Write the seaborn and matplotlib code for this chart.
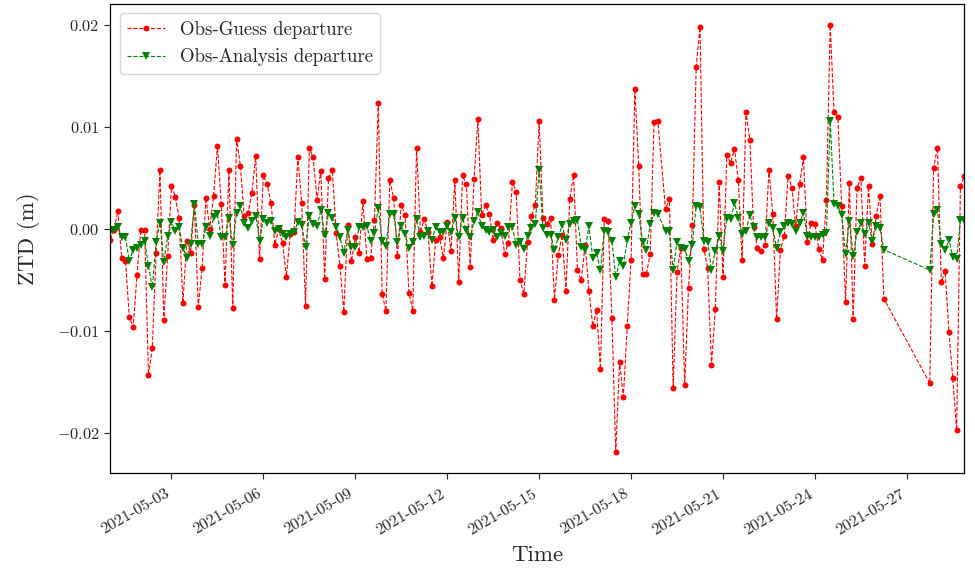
import numpy as np
import pandas as pd
import matplotlib
matplotlib.use("Agg")
import matplotlib.pyplot as plt
import matplotlib.dates as mdates
import seaborn as sns

nan = np.nan

# ZTD departures (mm) on a 3-hourly cycle starting 2021-05-01 00:00
omb_mm = [
    -1.0, -0.1, 1.8, -2.8, -3.1, -8.6, -9.6, -4.5, -0.1, -0.1,
    -14.3, -11.6, -2.3, 5.8, -8.9, -2.6, 4.2, 3.2, 1.1, -7.2,
    -1.1, -2.3, 2.4, -7.6, -3.8, 3.1, 0.0, 3.3, 8.2, 2.5,
    -5.5, 5.85, -7.7, 8.9, 6.2, 1.3, 1.6, 3.6, 7.2, -2.9,
    5.3, 4.4, 2.6, -1.5, 0.0, -1.3, -4.65, -0.5, -0.3, 7.05,
    2.6, -7.5, 8.0, 7.05, 2.9, 5.75, -4.9, 5.0, 5.85, -0.4,
    -3.6, -8.1, 0.4, -3.15, -0.75, -2.3, 2.8, -2.9, -2.8, 0.9,
    12.35, -6.3, -8.0, 4.8, 3.1, -2.6, 2.4, 1.4, -6.2, -8.0,
    8.0, -0.3, 1.0, -0.3, -5.6, -1.0, -0.8, -2.8, 0.75, -2.1,
    4.8, -5.2, 5.3, 4.4, -3.7, 4.9, 10.8, 1.4, 2.4, 1.5,
    -1.0, 0.65, 0.15, -2.4, -1.3, 4.6, 3.7, -5.0, -6.3, -1.2,
    1.3, 2.4, 10.6, 1.1, 0.55, 1.1, -6.9, -2.5, -0.55, -6.0,
    3.0, 5.3, -4.0, -5.0, -1.5, -6.0, -9.5, -7.9, -13.7, 1.0,
    0.8, -8.7, -21.8, -13.0, -16.4, -9.5, -3.0, 13.8, 6.2, -4.4,
    -4.4, -2.4, 10.5, 10.6, nan, 1.95, 3.0, -15.6, -4.2, -1.8,
    -15.3, -5.8, 0.4, 15.9, 19.8, -1.9, -3.8, -13.3, -7.8, 4.6,
    -4.7, 7.3, 6.5, 7.9, 4.8, -3.0, 11.5, 8.8, 0.2, -1.85,
    -2.1, -1.5, 5.85, 1.5, -8.8, -2.0, -0.65, 5.2, 4.1, 0.3,
    4.4, 7.05, -1.2, 0.65, 0.5, -1.95, -3.0, 2.9, 20.0, 11.5,
    11.0, 2.3, -7.1, 4.55, -8.8, 4.1, 5.0, -3.6, 4.2, -1.4,
    1.3, 3.3, -6.8, nan, nan, nan, nan, nan, nan, nan,
    nan, nan, nan, nan, -15.1, 6.0, 8.0, -5.2, -4.1, -10.1,
    -14.6, -19.7, 4.2, 5.2,
]

oma_mm = [
    -0.3, -0.1, 0.2, -0.8, -0.8, -3.1, -2.0, -1.8, -1.5, -1.1,
    -3.6, -5.7, -1.2, 0.65, -3.25, -0.7, 0.7, -0.15, 0.2, -1.8,
    -2.8, -1.4, 2.5, -1.4, -1.4, 0.2, -0.7, 1.2, 1.5, -0.8,
    -0.8, 1.1, -1.5, 1.6, 2.3, 0.65, 0.15, 0.8, 1.3, -1.1,
    1.0, 0.65, 0.8, -0.15, 0.0, -0.5, -0.8, -0.5, -0.3, 0.7,
    0.4, -1.7, 1.3, 0.5, 0.3, 1.9, -0.6, 1.6, 1.1, 0.2,
    -0.8, -2.3, -0.1, -1.7, -1.7, 0.2, 0.2, 0.3, -1.1, -0.4,
    2.1, -1.1, -1.6, 1.5, 1.5, -1.2, 0.3, -0.5, -1.8, -1.2,
    1.0, -0.8, -0.65, -0.2, -1.0, 0.2, -0.3, -0.3, 0.3, -0.3,
    1.1, -0.8, 1.1, -0.1, -0.8, 0.8, 1.7, 0.3, -0.1, -0.3,
    -0.1, -0.8, -0.4, -0.65, 0.2, 0.2, -1.5, -1.2, -1.9, -0.65,
    0.1, 0.55, 5.85, 0.1, -0.55, -0.55, -2.0, -0.8, 0.4, -1.0,
    0.55, 0.8, 0.9, -1.7, -2.0, 0.3, -2.8, -2.3, -4.0, -0.15,
    -0.3, -1.1, -4.7, -3.15, -3.6, -1.0, 0.65, 2.3, 1.5, -1.2,
    -2.0, 0.5, 1.6, 1.5, nan, -0.15, -0.15, -4.0, -1.2, -1.8,
    -1.9, -3.1, -1.5, 2.3, 2.2, -1.1, -1.2, -4.0, -2.1, -0.7,
    -2.1, 1.15, 1.0, 2.6, 1.15, -0.5, -0.15, 1.4, 0.2, -0.8,
    -0.8, -0.8, 0.65, 0.1, -1.8, -0.3, 0.3, 0.65, 0.5, -0.15,
    0.65, 1.6, -0.65, -0.75, -0.75, -0.8, -0.55, -0.4, 10.6, 2.5,
    2.3, 1.4, -2.4, 0.8, -2.6, -0.3, 0.65, -0.5, 0.65, -1.1,
    0.3, 0.15, -2.0, nan, nan, nan, nan, nan, nan, nan,
    nan, nan, nan, nan, -4.0, 1.5, 1.85, -1.4, -2.05, -1.0,
    -2.7, -2.9, 0.9, 0.9,
]

start_time = "2021-05-01 00:00"
step = "3h"

times = pd.date_range(start_time, periods=len(omb_mm), freq=step)
df = pd.DataFrame({
    "time": times,
    "omb": np.array(omb_mm) / 1000.0,
    "oma": np.array(oma_mm) / 1000.0,
})

sns.set_style("ticks")
plt.rcParams["font.family"] = ["serif"]
plt.rcParams["font.serif"] = ["cmr10", "DejaVu Serif"]
plt.rcParams["mathtext.fontset"] = "cm"
plt.rcParams["axes.formatter.use_mathtext"] = True
plt.rcParams["axes.unicode_minus"] = True

fig, ax = plt.subplots(figsize=(9.75, 5.74), dpi=100)
fig.subplots_adjust(left=0.113, right=0.989, top=0.993, bottom=0.176)

omb = df[["time", "omb"]].dropna()
oma = df[["time", "oma"]].dropna()

sns.lineplot(data=omb, x="time", y="omb", ax=ax, color="red", linestyle="--",
             linewidth=0.8, marker="o", markersize=4.3, markeredgewidth=0,
             label="Obs-Guess departure", sort=False)
sns.lineplot(data=oma, x="time", y="oma", ax=ax, color="green", linestyle="--",
             linewidth=0.8, marker="v", markersize=5.5, markeredgewidth=0,
             label="Obs-Analysis departure", sort=False)

ax.set_xlim(df["time"].iloc[0], df["time"].iloc[-1])
ax.set_yticks([-0.02, -0.01, 0.0, 0.01, 0.02])
ax.xaxis.set_major_locator(mdates.DayLocator(bymonthday=range(3, 32, 3)))
ax.xaxis.set_major_formatter(mdates.DateFormatter("%Y-%m-%d"))
for lab in ax.get_xticklabels():
    lab.set_rotation(30)
    lab.set_ha("right")

ax.tick_params(axis="both", labelsize=11.8, direction="out", length=4)
ax.tick_params(axis="x", pad=6)
ax.set_xlabel("Time", fontsize=16.5, labelpad=6)
ax.set_ylabel("ZTD (m)", fontsize=16.5, labelpad=12)

for side in ["top", "right", "left", "bottom"]:
    ax.spines[side].set_visible(True)
    ax.spines[side].set_color("black")
    ax.spines[side].set_linewidth(0.9)

ax.legend(loc="upper left", fontsize=13.5, frameon=True)

fig.savefig("out.png", dpi=100)
